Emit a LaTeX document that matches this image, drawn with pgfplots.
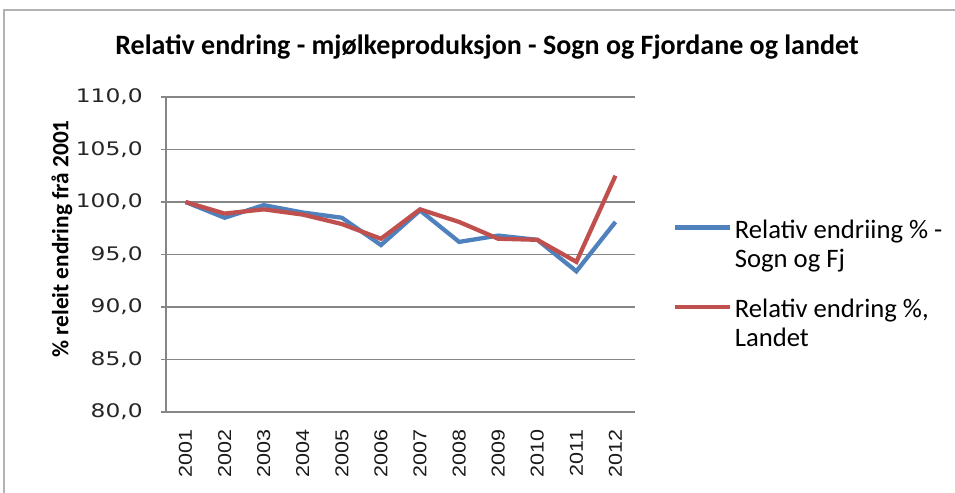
\documentclass[border=0pt]{standalone}
\usepackage{pgfplots}
\pgfplotsset{compat=1.18}
\usepackage{fontspec}
\setmainfont{Carlito}
\newfontfamily\dejavu[FakeStretch=1.25]{DejaVu Sans}
\newfontfamily\arial[FakeStretch=1.15]{Liberation Sans}
\definecolor{xblue}{HTML}{4F81BD}
\definecolor{xred}{HTML}{C0504D}
\definecolor{xgrid}{HTML}{868686}
\begin{document}
\begin{tikzpicture}
\useasboundingbox (0,0) rectangle (716.25pt,369pt);
\draw[gray!60, line width=1.2pt] (3pt,-20pt) -- (3pt,361.5pt) -- (740pt,361.5pt);
\node[font=\fontsize{21}{24}\selectfont\bfseries] at (365.25pt,333.75pt) {Relativ endring - mjølkeproduksjon - Sogn og Fjordane og landet};
\node[font=\fontsize{17.5}{20}\selectfont\bfseries, rotate=90] at (46.5pt,189.75pt) {\% releit endring frå 2001};
\begin{axis}[
  at={(124.5pt,60pt)}, anchor=south west,
  scale only axis, width=351.75pt, height=236.25pt,
  xmin=-0.5, xmax=11.5, ymin=80, ymax=110,
  xtick={0,...,11},
  xticklabels={2001,2002,2003,2004,2005,2006,2007,2008,2009,2010,2011,2012},
  ytick={80,85,...,110},
  axis lines*=left,
  axis line style={-, xgrid, line width=0.8pt},
  ymajorgrids, grid style={xgrid, line width=0.8pt},
  tick align=outside, major tick length=4pt,
  xtick style={draw=none},
  ytick style={xgrid, line width=0.8pt},
  yticklabel style={font=\dejavu\fontsize{14}{16}\selectfont, text=black!85},
  yticklabel shift=10pt,
  xticklabel style={font=\arial\fontsize{14}{16}\selectfont, rotate=90, anchor=east, text=black!90},
  xticklabel shift=6pt,
  /pgf/number format/.cd, fixed, fixed zerofill, precision=1, use comma, assume math mode=true,
  /pgfplots/.cd,
  legend style={draw=none, fill=none, at={(1.081,0.62)}, anchor=north west,
    font=\fontsize{20}{22}\selectfont, row sep=18pt, inner sep=0pt,
    nodes={align=left, anchor=base west, inner sep=2pt}},
  legend cell align=left,
  legend image code/.code={\draw[#1] (0pt,30pt) -- (41pt,30pt);},
]
\addplot[xblue, line width=3.2pt] coordinates {
(0,100.0) (1,98.5) (2,99.7) (3,99.0) (4,98.5) (5,95.9) (6,99.2) (7,96.2) (8,96.8) (9,96.4) (10,93.4) (11,98.1)};
\addlegendentry{Relativ endriing \% -\\Sogn og Fj}
\addplot[xred, line width=3.2pt] coordinates {
(0,100.0) (1,98.9) (2,99.3) (3,98.8) (4,97.9) (5,96.5) (6,99.3) (7,98.1) (8,96.5) (9,96.4) (10,94.3) (11,102.5)};
\addlegendentry{Relativ endring \%,\\Landet}
\end{axis}
\end{tikzpicture}
\end{document}
